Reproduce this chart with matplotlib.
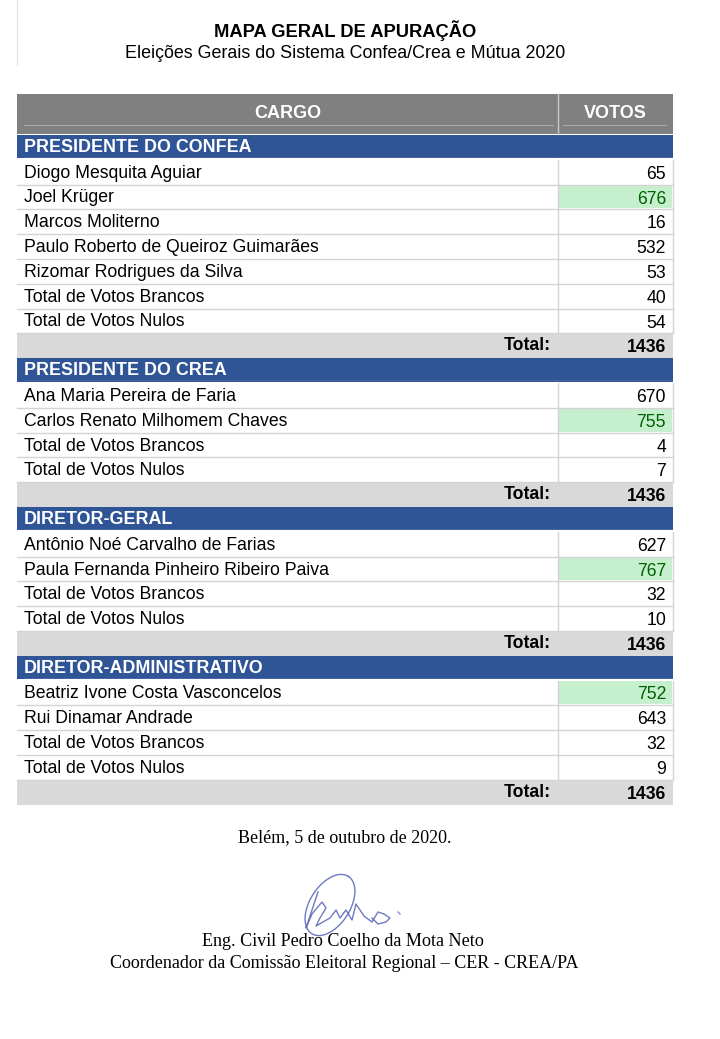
import matplotlib
matplotlib.use("Agg")
import matplotlib.pyplot as plt
from matplotlib.patches import Rectangle
import numpy as np

# ---------------- data ----------------
sections = ["PRESIDENTE DO CONFEA", "PRESIDENTE DO CREA", "DIRETOR-GERAL", "DIRETOR-ADMINISTRATIVO"]
confea_names = ["Diogo Mesquita Aguiar", "Joel Krüger", "Marcos Moliterno",
                "Paulo Roberto de Queiroz Guimarães", "Rizomar Rodrigues da Silva",
                "Total de Votos Brancos", "Total de Votos Nulos"]
confea_votes = [65, 676, 16, 532, 53, 40, 54]
crea_names = ["Ana Maria Pereira de Faria", "Carlos Renato Milhomem Chaves",
              "Total de Votos Brancos", "Total de Votos Nulos"]
crea_votes = [670, 755, 4, 7]
dg_names = ["Antônio Noé Carvalho de Farias", "Paula Fernanda Pinheiro Ribeiro Paiva",
            "Total de Votos Brancos", "Total de Votos Nulos"]
dg_votes = [627, 767, 32, 10]
da_names = ["Beatriz Ivone Costa Vasconcelos", "Rui Dinamar Andrade",
            "Total de Votos Brancos", "Total de Votos Nulos"]
da_votes = [752, 643, 32, 9]
totals = [1436, 1436, 1436, 1436]
winners = [1, 1, 1, 0]  # index of highlighted (winning) row per section

title = "MAPA GERAL DE APURAÇÃO"
subtitle = "Eleições Gerais do Sistema Confea/Crea e Mútua 2020"
col_headers = ["CARGO", "VOTOS"]
place_date = "Belém, 5 de outubro de 2020."
signer = "Eng. Civil Pedro Coelho da Mota Neto"
signer_role = "Coordenador da Comissão Eleitoral Regional – CER - CREA/PA"

# ---------------- layout ----------------
W, H = 720, 1039
fig = plt.figure(figsize=(W / 100, H / 100), dpi=100)
ax = fig.add_axes([0, 0, 1, 1])
ax.set_xlim(0, W)
ax.set_ylim(H, 0)
ax.axis("off")

SANS = ["Liberation Sans", "DejaVu Sans"]
SERIF = ["Liberation Serif", "DejaVu Serif"]

x0, x1, xdiv = 17, 673, 558
hdr_top, hdr_bot = 94, 134
rh = 24.8
FS = 12.7

GREY_HDR = "#808080"
BLUE = "#2F5597"
TOT_GREY = "#D9D9D9"
GRID = "#D4D4D4"
GREEN_BG = "#C6EFCE"
GREEN_TX = "#006100"

# faint left margin line
ax.plot([17, 17], [0, 65], color="#E6E6E6", lw=1)

ax.text(345, 31, title, ha="center", va="center", fontsize=13.2, fontweight="bold",
        family=SANS, color="black")
ax.text(345, 54, subtitle, ha="center", va="center", fontsize=12.9, family=SANS, color="black")

# header row
ax.add_patch(Rectangle((x0, hdr_top), x1 - x0, hdr_bot - hdr_top, color=GREY_HDR, lw=0))
ax.plot([xdiv, xdiv], [hdr_top, hdr_bot], color="#C8C8C8", lw=1)
ax.plot([24, 553], [124.5, 124.5], color="#A8A8A8", lw=0.8)
ax.plot([563, 666], [124.5, 124.5], color="#A8A8A8", lw=0.8)
ax.text((x0 + xdiv) / 2, 114, col_headers[0], ha="center", va="center", fontsize=13,
        fontweight="bold", color="white", family=SANS)
ax.text((xdiv + x1) / 2, 114, col_headers[1], ha="center", va="center", fontsize=13,
        fontweight="bold", color="white", family=SANS)

all_names = [confea_names, crea_names, dg_names, da_names]
all_votes = [confea_votes, crea_votes, dg_votes, da_votes]

y = hdr_bot + 1
for s, sec in enumerate(sections):
    # section header
    ax.add_patch(Rectangle((x0, y), x1 - x0, rh - 1.5, color=BLUE, lw=0))
    ax.plot([24, 672], [y + rh - 3, y + rh - 3], color="#4D6BA8", lw=0.6)
    ax.text(24, y + rh / 2, sec, ha="left", va="center", fontsize=12.9, fontweight="bold",
            color="white", family=SANS)
    y += rh
    for i, (nm, v) in enumerate(zip(all_names[s], all_votes[s])):
        win = (i == winners[s])
        if win:
            ax.add_patch(Rectangle((xdiv + 1, y), x1 - xdiv - 2, rh - 1, color=GREEN_BG, lw=0))
        ax.text(24, y + rh / 2 + 1, nm, ha="left", va="center", fontsize=FS, family=SANS,
                color="black")
        ax.text(666, y + rh / 2 + 2, f"{v}", ha="right", va="center", fontsize=FS, family=SANS,
                color=GREEN_TX if win else "black")
        ax.plot([xdiv, xdiv], [y, y + rh], color=GRID, lw=1)
        ax.plot([x1, x1], [y, y + rh], color=GRID, lw=1)
        ax.plot([x0, x1], [y + rh, y + rh], color=GRID, lw=1)
        y += rh
    # total row
    ax.add_patch(Rectangle((x0, y), x1 - x0, rh, color=TOT_GREY, lw=0))
    ax.text(551, y + rh / 2, "Total:", ha="right", va="center", fontsize=FS,
            fontweight="bold", family=SANS, color="black")
    ax.text(666, y + rh / 2 + 2, f"{totals[s]}", ha="right", va="center", fontsize=FS,
            fontweight="bold", family=SANS, color="black")
    y += rh

# footer
ax.text(345, 838, place_date, ha="center", va="center", fontsize=13, family=SERIF, color="black")

# signature scribble (decorative)
t = np.linspace(0, 2 * np.pi, 200)
ex = 330 + 34 * np.cos(t) * np.cos(-1.0) - 20 * np.sin(t) * np.sin(-1.0)
ey = 905 + 34 * np.cos(t) * np.sin(-1.0) + 20 * np.sin(t) * np.cos(-1.0)
ax.plot(ex, ey, color="#5563B8", lw=1.0, alpha=0.85)
sx = [318, 314, 310, 306, 312, 322, 326, 320, 316, 330, 336, 340, 346, 352, 356, 364, 372, 378, 384, 390, 386, 378, 372]
sy = [892, 904, 916, 928, 914, 902, 908, 918, 926, 918, 910, 918, 910, 920, 904, 916, 922, 912, 914, 918, 922, 924, 918]
ax.plot(sx, sy, color="#5563B8", lw=1.0, alpha=0.85)
ax.plot([398, 400], [912, 914], color="#8A8FC8", lw=1)

ax.text(343, 941, signer, ha="center", va="center", fontsize=13.1, family=SERIF, color="black")
ax.text(344, 963, signer_role, ha="center", va="center", fontsize=13, family=SERIF, color="black")

fig.savefig("out.png", dpi=100, facecolor="white")
